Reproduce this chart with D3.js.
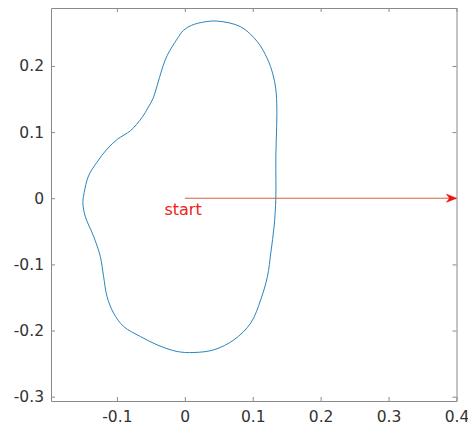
<!DOCTYPE html>
<html>
<head>
<meta charset="utf-8">
<script src="https://cdn.jsdelivr.net/npm/d3@7"></script>
<style>
  body { margin: 0; background: #fff; }
  .axis text { font-family: "DejaVu Sans", sans-serif; font-size: 15.5px; fill: #333; }
  .axis path, .axis line { stroke: #8a8a8a; }
</style>
</head>
<body>
<div id="chart"></div>
<script>
// closed curve (counterclockwise from the start point)
var curveX = [0.134, 0.134, 0.1355, 0.134, 0.1295, 0.1217, 0.107, 0.0823, 0.0479, 0.0276, 0.0099,
  -0.0019, -0.0112, -0.026, -0.0334, -0.0408, -0.0465, -0.0544, -0.0629, -0.0802, -0.0987, -0.1146, -0.1294,
  -0.1418, -0.1482, -0.1501, -0.1467, -0.1344, -0.1245, -0.1196, -0.1146, -0.1049, -0.0901,
  -0.0654, -0.0408, -0.0112, 0.0133, 0.0428, 0.0724, 0.097, 0.1118, 0.1217, 0.1266, 0.1315];
var curveY = [0, 0.059, 0.135, 0.165, 0.188, 0.2106, 0.2364, 0.2592, 0.2678, 0.2663, 0.2614,
  0.2539, 0.241, 0.2157, 0.1955, 0.1702, 0.1515, 0.1365, 0.1222, 0.1019, 0.0896, 0.0742, 0.0544,
  0.0337, 0.0085, -0.0062, -0.027, -0.0573, -0.0877, -0.118, -0.1483, -0.1735, -0.1938,
  -0.209, -0.2216, -0.2317, -0.2332, -0.2291, -0.214, -0.1887, -0.1533, -0.118, -0.0825, -0.0422];

var arrowFrom = [0, 0];
var arrowTo = [0.4, 0];
var startLabel = {text: "start", x: -0.03, y: -0.017};

var xTicks = [-0.1, 0, 0.1, 0.2, 0.3, 0.4];
var yTicks = [-0.3, -0.2, -0.1, 0, 0.1, 0.2];
var xDomain = [-0.197, 0.4];
var yDomain = [-0.3065, 0.2876];

var svgWidth = 468;
var svgHeight = 426;
var margin = {top: 8, right: 11.5, bottom: 25, left: 51};
var width = svgWidth - margin.left - margin.right;
var height = svgHeight - margin.top - margin.bottom;

var svg = d3.select("#chart")
  .append("svg")
  .attr("width", svgWidth)
  .attr("height", svgHeight)
  .append("g")
  .attr("transform", `translate(${margin.left}, ${margin.top})`);

var x = d3.scaleLinear().domain(xDomain).range([0, width]);
var y = d3.scaleLinear().domain(yDomain).range([height, 0]);

// plain hyphen for negatives, like the original
var fmt = function(d) { return d === 0 ? "0" : String(+d.toFixed(1)); };

// axes, ticks pointing inward (box style)
svg.append("g").attr("class", "axis")
  .attr("transform", `translate(0, ${height})`)
  .call(d3.axisBottom(x).tickValues(xTicks).tickFormat(fmt).tickSizeInner(-4).tickSizeOuter(0).tickPadding(10));
svg.append("g").attr("class", "axis")
  .call(d3.axisLeft(y).tickValues(yTicks).tickFormat(fmt).tickSizeInner(-4).tickSizeOuter(0).tickPadding(7));
svg.append("g").attr("class", "axis")
  .call(d3.axisTop(x).tickValues(xTicks).tickFormat("").tickSizeInner(-4).tickSizeOuter(0));
svg.append("g").attr("class", "axis")
  .attr("transform", `translate(${width}, 0)`)
  .call(d3.axisRight(y).tickValues(yTicks).tickFormat("").tickSizeInner(-4).tickSizeOuter(0));

// the closed curve
var pts = curveX.map(function(d, i) { return [d, curveY[i]]; });
var line = d3.line()
  .x(function(d) { return x(d[0]); })
  .y(function(d) { return y(d[1]); })
  .curve(d3.curveCatmullRomClosed.alpha(0.5));
svg.append("path")
  .datum(pts)
  .attr("d", line)
  .attr("fill", "none")
  .attr("stroke", "#2a84bd")
  .attr("stroke-width", 1);

// arrow
var x0 = x(arrowFrom[0]), y0 = y(arrowFrom[1]);
var x1 = x(arrowTo[0]), y1 = y(arrowTo[1]);
svg.append("line")
  .attr("x1", x0).attr("y1", y0)
  .attr("x2", x1 - 6).attr("y2", y1)
  .attr("stroke", "#d9603c")
  .attr("stroke-width", 1);
svg.append("path")
  .attr("d", `M${x1},${y1} L${x1 - 10},${y1 - 4} L${x1 - 7},${y1} L${x1 - 10},${y1 + 4} Z`)
  .attr("fill", "#f01010")
  .attr("stroke", "#f01010")
  .attr("stroke-width", 0.6);

svg.append("text")
  .attr("x", x(startLabel.x))
  .attr("y", y(startLabel.y))
  .attr("dy", "0.35em")
  .style("font-family", "DejaVu Sans, sans-serif")
  .style("font-size", "16px")
  .attr("fill", "#f0201c")
  .text(startLabel.text);
</script>
</body>
</html>
